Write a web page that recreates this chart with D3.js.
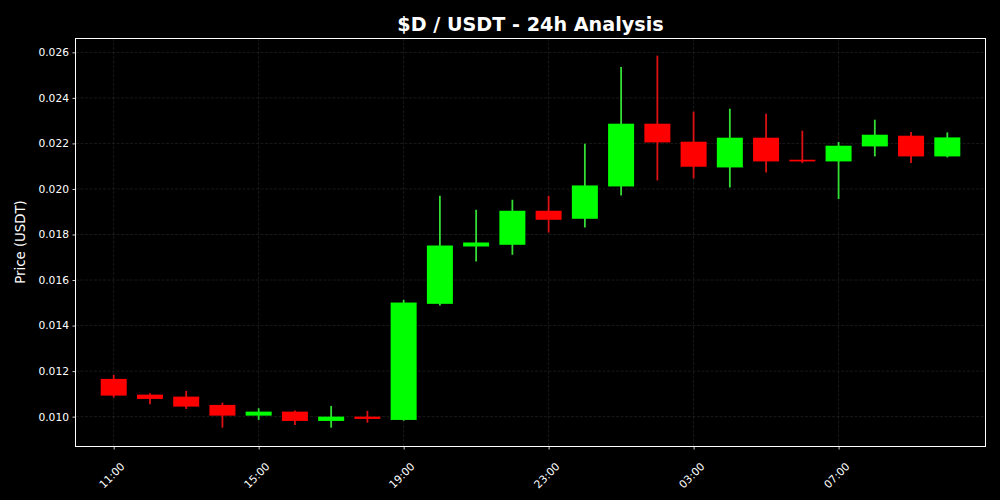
<!DOCTYPE html>
<html>
<head>
<meta charset="utf-8">
<script src="https://cdn.jsdelivr.net/npm/d3@7"></script>
<style>
  html, body { margin: 0; padding: 0; background: #000; }
  svg { display: block; font-family: "DejaVu Sans", sans-serif; }
</style>
</head>
<body>
<div id="chart"></div>
<script>
// hourly candles, 11:00 -> 10:00 next day
const hours = ["11:00","12:00","13:00","14:00","15:00","16:00","17:00","18:00","19:00","20:00","21:00","22:00",
               "23:00","00:00","01:00","02:00","03:00","04:00","05:00","06:00","07:00","08:00","09:00","10:00"];
const opens  = [0.011657,0.010967,0.010879,0.010514,0.010044,0.010220,0.009811,0.010000,0.009855,0.014954,0.017473,0.017547,
                0.019042,0.018690,0.020110,0.022866,0.022075,0.020945,0.022251,0.021283,0.021209,0.021868,0.022338,0.021429];
const highs  = [0.011833,0.011026,0.011130,0.010615,0.010369,0.010264,0.010470,0.010251,0.015130,0.019701,0.019086,0.019525,
                0.019701,0.021987,0.025358,0.025855,0.023393,0.023525,0.023305,0.022558,0.022062,0.023042,0.022501,0.022484];
const lows   = [0.010835,0.010545,0.010338,0.009516,0.009855,0.009635,0.009516,0.009736,0.009820,0.014879,0.016813,0.017108,
                0.018088,0.018308,0.019714,0.020374,0.020462,0.020066,0.020725,0.021138,0.019556,0.021429,0.021138,0.021385];
const closes = [0.010923,0.010778,0.010440,0.010044,0.010220,0.009811,0.010000,0.009899,0.015011,0.017516,0.017648,0.019042,
                0.018646,0.020154,0.022866,0.022044,0.020976,0.022251,0.021209,0.021209,0.021899,0.022382,0.021429,0.022264];
const yTicks = [0.010, 0.012, 0.014, 0.016, 0.018, 0.020, 0.022, 0.024, 0.026];
const xTickLabels = ["11:00","15:00","19:00","23:00","03:00","07:00"];

const W = 1000, H = 500;
const margin = { top: 38, right: 15, bottom: 54, left: 76 };
const iw = W - margin.left - margin.right;
const ih = H - margin.top - margin.bottom;

// build timestamps: start day 1, roll over after midnight
const parse = d3.timeParse("%Y-%m-%d %H:%M");
let day = 1, prev = -1;
const times = hours.map(h => {
  const hh = +h.slice(0, 2);
  if (hh < prev) day++;
  prev = hh;
  return parse(`2024-01-0${day} ${h}`);
});

const data = times.map((t, i) => ({ t, o: opens[i], h: highs[i], l: lows[i], c: closes[i] }));

const hourMs = 3600 * 1000;
const pad = 1.04 * hourMs;
const x = d3.scaleTime()
  .domain([new Date(+times[0] - pad), new Date(+times[times.length - 1] + pad)])
  .range([0, iw]);

const y = d3.scaleLinear()
  .domain([0.00871, 0.02663])
  .range([ih, 0]);

const svg = d3.select("#chart").append("svg")
  .attr("width", W)
  .attr("height", H);

svg.append("rect").attr("width", W).attr("height", H).attr("fill", "#000");

const g = svg.append("g").attr("transform", `translate(${margin.left},${margin.top})`);

const xTickTimes = xTickLabels.map(lbl => times[hours.indexOf(lbl)]);

// grid
g.append("g").selectAll("line.gy")
  .data(yTicks).join("line")
  .attr("x1", 0).attr("x2", iw)
  .attr("y1", d => y(d)).attr("y2", d => y(d))
  .attr("stroke", "#333").attr("stroke-width", 0.8)
  .attr("stroke-dasharray", "3,1.5").attr("opacity", 0.6);

g.append("g").selectAll("line.gx")
  .data(xTickTimes).join("line")
  .attr("x1", d => x(d)).attr("x2", d => x(d))
  .attr("y1", 0).attr("y2", ih)
  .attr("stroke", "#333").attr("stroke-width", 0.8)
  .attr("stroke-dasharray", "3,1.5").attr("opacity", 0.6);

// candles
const bodyW = 26;
const up = "#00ff00", down = "#ff0000";
const upWick = "#33dd33", downWick = "#dd1111";

const candles = g.append("g").selectAll("g.candle")
  .data(data).join("g");

candles.append("line")
  .attr("x1", d => x(d.t)).attr("x2", d => x(d.t))
  .attr("y1", d => y(d.h)).attr("y2", d => y(d.l))
  .attr("stroke", d => d.c >= d.o ? upWick : downWick)
  .attr("stroke-width", 1.8);

candles.append("rect")
  .attr("x", d => x(d.t) - bodyW / 2)
  .attr("width", bodyW)
  .attr("y", d => y(Math.max(d.o, d.c)))
  .attr("height", d => Math.max(1.5, Math.abs(y(d.o) - y(d.c))))
  .attr("fill", d => d.c >= d.o ? up : down);

// axes
const yAxis = g.append("g")
  .call(d3.axisLeft(y).tickValues(yTicks).tickFormat(d3.format(".3f")).tickSize(3.5).tickPadding(3.5));
const xAxis = g.append("g")
  .attr("transform", `translate(0,${ih})`)
  .call(d3.axisBottom(x).tickValues(xTickTimes).tickFormat(d3.timeFormat("%H:%M")).tickSize(3.5).tickPadding(3));

[yAxis, xAxis].forEach(a => {
  a.select(".domain").remove();
  a.selectAll(".tick line").attr("stroke", "#fff").attr("stroke-width", 0.8);
  a.selectAll(".tick text").attr("fill", "#fff").style("font-size", "10.7px").style("font-family", "DejaVu Sans");
});

xAxis.selectAll(".tick text")
  .attr("text-anchor", "end")
  .attr("dy", "0.35em")
  .attr("transform", "translate(4,14) rotate(-45)");

// frame
g.append("rect")
  .attr("x", -0.5).attr("y", 0.5)
  .attr("width", iw + 1).attr("height", ih)
  .attr("fill", "none").attr("stroke", "#fff").attr("stroke-width", 1)
  .attr("shape-rendering", "crispEdges");

// title and label
svg.append("text")
  .attr("x", margin.left + iw / 2).attr("y", 31)
  .attr("text-anchor", "middle")
  .attr("fill", "#fff")
  .style("font-size", "19.2px").style("font-weight", "bold")
  .text("$D / USDT - 24h Analysis");

svg.append("text")
  .attr("transform", `translate(25,${margin.top + ih / 2}) rotate(-90)`)
  .attr("text-anchor", "middle")
  .attr("fill", "#fff")
  .style("font-size", "13.3px")
  .text("Price (USDT)");
</script>
</body>
</html>
